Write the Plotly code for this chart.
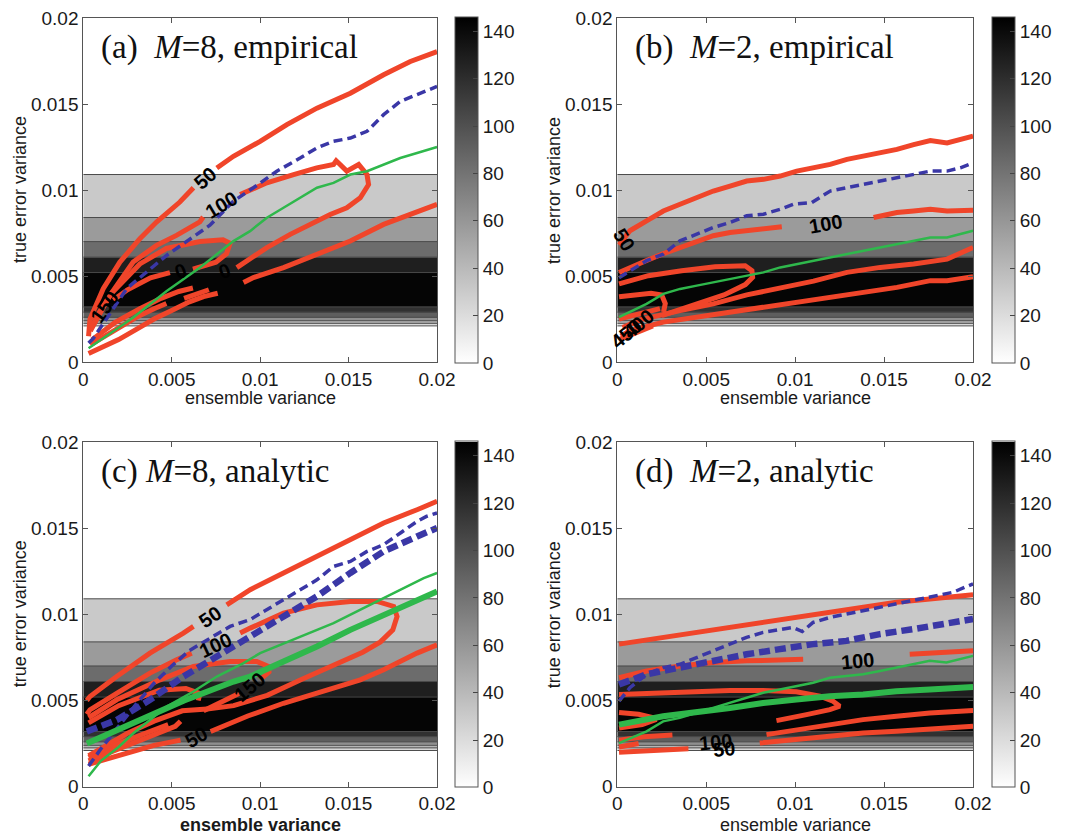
import plotly.graph_objects as go

# ---------------- shared background histogram bands ----------------
BAND_EDGES = [0.0021, 0.00225, 0.0024, 0.0026, 0.0029, 0.0032, 0.0052, 0.0061, 0.0070, 0.0084, 0.0109]
BAND_COUNTS = [22, 42, 64, 92, 118, 143, 128, 84, 57, 31]
CB_TICKS = [0, 20, 40, 60, 80, 100, 120, 140]
AX_TICKS = [0, 0.005, 0.01, 0.015, 0.02]
AX_TICKTEXT = ["0", "0.005", "0.01", "0.015", "0.02"]

# ---------------- panel (a) M=8 empirical ----------------
a_red_x = [0.0003, 0.00038, 0.00113, 0.00207, 0.0032, 0.00414, 0.00546, 0.00623, None,
           0.00755, 0.00849, 0.0100, 0.01151, 0.01321, 0.0151, 0.01698, 0.01849, 0.0200, None,
           0.0004, 0.00151, 0.00282, 0.00414, 0.00527, 0.00659, 0.00678, None,
           0.00887, 0.01038, 0.01189, 0.0132, 0.01415, 0.0143, 0.0149, 0.01557, 0.01604, 0.01613,
           0.01566, 0.0149, 0.01396, 0.01283, 0.0117, 0.01038, 0.00925, 0.00868, None,
           0.0006, 0.0016, 0.0032, 0.0047, 0.0066, 0.0079, 0.0083, 0.0081, 0.0075, 0.0062, None,
           0.0049, 0.0038, 0.0025, 0.0017, None, 0.0008, 0.0004, None,
           0.0003, 0.0010, 0.0020, 0.0030, 0.0040, 0.0050, 0.0060, 0.0068, 0.0076, None,
           0.00906, 0.00962, 0.01132, 0.01321, 0.0151, 0.01698, 0.01849, 0.0200, None,
           0.0004, 0.0015, 0.0030, 0.0040, 0.0047, None, 0.0057, 0.0066, 0.0071, None,
           0.0005, 0.0018, 0.0032, 0.0044, 0.0054, 0.0062]
a_red_y = [0.0015, 0.0025, 0.00426, 0.00581, 0.00717, 0.00814, 0.0093, 0.01013, None,
           0.01128, 0.01196, 0.01283, 0.0138, 0.01476, 0.01563, 0.0167, 0.01747, 0.01805, None,
           0.0018, 0.00388, 0.00581, 0.00678, 0.00736, 0.00814, 0.00843, None,
           0.00974, 0.01042, 0.0109, 0.01129, 0.01148, 0.0117, 0.0111, 0.01148, 0.0109, 0.01032,
           0.00955, 0.00897, 0.00858, 0.0080, 0.00742, 0.00665, 0.00587, 0.00549, None,
           0.0024, 0.0040, 0.0057, 0.0066, 0.0070, 0.0071, 0.0069, 0.0063, 0.0058, 0.0054, None,
           0.0052, 0.0049, 0.0042, 0.0036, None, 0.0026, 0.0020, None,
           0.0005, 0.0008, 0.0013, 0.0019, 0.0025, 0.0030, 0.0035, 0.0038, 0.0040, None,
           0.00462, 0.00491, 0.00549, 0.00626, 0.00703, 0.0080, 0.00858, 0.00916, None,
           0.0010, 0.0017, 0.0026, 0.0031, 0.0034, None, 0.0037, 0.0040, 0.0042, None,
           0.0013, 0.0023, 0.0031, 0.0037, 0.0041, 0.0043]
a_blue_x = [0.0003, 0.00056, 0.00245, 0.00471, 0.00716, 0.00849, 0.00962, 0.01094, 0.01226, 0.0132,
            0.01415, 0.0151, 0.01604, 0.01698, 0.01792, 0.01887, 0.0200]
a_blue_y = [0.0011, 0.00136, 0.00426, 0.0062, 0.00795, 0.00935, 0.01013, 0.01109, 0.01186, 0.01244,
            0.01283, 0.01302, 0.01341, 0.01438, 0.01515, 0.01554, 0.01602]
a_green_x = [0.0003, 0.00094, 0.00189, 0.00283, 0.00377, 0.00472, 0.00566, 0.0066, 0.00755, 0.00849, 0.00943,
             0.01038, 0.01132, 0.01226, 0.01321, 0.01415, 0.0151, 0.01604, 0.01698, 0.01792, 0.01887, 0.0200]
a_green_y = [0.0008, 0.00124, 0.00191, 0.00259, 0.00336, 0.00413, 0.00481, 0.00549, 0.00626, 0.00703, 0.00761,
             0.00839, 0.00897, 0.00955, 0.01013, 0.01041, 0.0109, 0.01109, 0.01148, 0.01186, 0.01215, 0.0125]
a_lab_text = ["50", "100", "150", "0", "0"]
a_lab_x = [0.0069, 0.0078, 0.0012, 0.0055, 0.0080]
a_lab_y = [0.0107, 0.0091, 0.0032, 0.0053, 0.0053]
a_lab_ang = [-41, -31, -55, -20, -20]

# ---------------- panel (b) M=2 empirical ----------------
b_red_x = [0.0001, 0.00071, 0.00165, 0.00259, 0.00353, 0.00447, 0.0054, 0.00634, 0.00728, 0.00822, 0.00916,
           0.01009, 0.01103, 0.01197, 0.01291, 0.01385, 0.01478, 0.01572, 0.01666, 0.0176, 0.01854, 0.01929, 0.0200, None,
           0.0001, 0.00071, 0.00165, 0.00259, 0.00353, 0.00447, 0.0054, 0.00634, 0.00728, 0.00822, 0.00925, None,
           0.01441, 0.01572, 0.01666, 0.0176, 0.01854, 0.0200, None,
           0.0001, 0.00175, 0.00362, 0.0055, 0.00719, 0.00757, 0.00761, 0.0072, 0.0060, 0.0048, 0.0034, 0.0025, None,
           0.0001, 0.0010, 0.0019, 0.0025, 0.0027, 0.0026, None,
           0.0003, 0.00128, 0.00353, 0.0054, 0.00728, 0.00916, 0.01103, 0.01291, 0.01478, 0.01666, 0.01854, 0.0200, None,
           0.0002, 0.00071, 0.00259, 0.00447, 0.00634, 0.00822, 0.01009, 0.01197, 0.01385, 0.01572, 0.0176, 0.01854, 0.0200, None,
           0.0001, 0.0010, 0.0020, None, 0.0001, 0.0012, 0.0024]
b_red_y = [0.0068, 0.00763, 0.0082, 0.00878, 0.00917, 0.00956, 0.00994, 0.01023, 0.01052, 0.01062, 0.01081,
           0.0111, 0.01129, 0.01149, 0.01178, 0.01197, 0.01216, 0.01236, 0.01264, 0.01288, 0.01274, 0.01293, 0.01313, None,
           0.0052, 0.0055, 0.0059, 0.0063, 0.00666, 0.00705, 0.00734, 0.00753, 0.00763, 0.00772, 0.00786, None,
           0.0084, 0.00869, 0.00878, 0.00888, 0.00878, 0.00882, None,
           0.00454, 0.00502, 0.00531, 0.00554, 0.0056, 0.00531, 0.00492, 0.0045, 0.0039, 0.0035, 0.0030, 0.0027, None,
           0.0038, 0.0039, 0.0040, 0.0039, 0.0034, 0.0029, None,
           0.0020, 0.00245, 0.00299, 0.00338, 0.0039, 0.0043, 0.0047, 0.00521, 0.0055, 0.0057, 0.00598, 0.00666, None,
           0.0015, 0.00183, 0.00232, 0.00261, 0.0029, 0.00318, 0.00347, 0.00376, 0.00405, 0.00434, 0.00473, 0.00473, 0.00496, None,
           0.0013, 0.0017, 0.0021, None, 0.0025, 0.0028, 0.0031]
b_blue_x = [0.0001, 0.00071, 0.00165, 0.00259, 0.00353, 0.00447, 0.0054, 0.00634, 0.00728, 0.00822, 0.00916, 0.00991,
            0.01094, 0.01197, 0.01291, 0.01385, 0.01478, 0.01572, 0.01666, 0.0176, 0.01854, 0.01929, 0.0200]
b_blue_y = [0.0049, 0.0053, 0.00589, 0.00627, 0.00705, 0.00743, 0.00782, 0.00811, 0.0085, 0.00859, 0.00888, 0.00917,
            0.00927, 0.00994, 0.01014, 0.01033, 0.01052, 0.01071, 0.01091, 0.0111, 0.0111, 0.01129, 0.01158]
b_green_x = [0.0001, 0.00071, 0.00165, 0.00259, 0.00353, 0.00447, 0.0054, 0.00634, 0.00728, 0.00822, 0.00916,
             0.01009, 0.01103, 0.01197, 0.01291, 0.01385, 0.01478, 0.01572, 0.01666, 0.0176, 0.01854, 0.0200]
b_green_y = [0.00261, 0.0029, 0.00338, 0.00396, 0.00425, 0.00444, 0.00463, 0.00483, 0.00502, 0.00521, 0.0055,
             0.0057, 0.00589, 0.00608, 0.00627, 0.00647, 0.00666, 0.00685, 0.00705, 0.00724, 0.00724, 0.00763]
b_lab_text = ["50", "100", "400", "450"]
b_lab_x = [0.0004, 0.01169, 0.0012, 0.0005]
b_lab_y = [0.0071, 0.00805, 0.0022, 0.0016]
b_lab_ang = [58, -10, -40, -40]

# ---------------- panel (c) M=8 analytic ----------------
c_red_x = [0.0002, 0.00038, 0.00189, 0.00377, 0.00566, 0.00623, None,
           0.00811, 0.00944, 0.01132, 0.01321, 0.0151, 0.01698, 0.01887, 0.0200, None,
           0.0002, 0.00038, 0.00189, 0.00377, 0.00528, 0.00613, None,
           0.00887, 0.00944, 0.01132, 0.01321, 0.0151, 0.01661, 0.01755, 0.01774, 0.0175, 0.0168, 0.0158, 0.0142,
           0.0123, 0.0104, 0.0085, 0.0070, 0.0056, 0.0040, 0.0025, 0.0010, 0.0003, None,
           0.0003, 0.00189, 0.00434, 0.00623, 0.0083, 0.00981, 0.01047, 0.0105, 0.0101, None,
           0.0088, 0.0078, 0.0068, None,
           0.0003, 0.0020, 0.0043, 0.0058, 0.0066, 0.0065, None,
           0.0003, 0.0020, 0.0040, 0.0055, None,
           0.0072, 0.0093, 0.01132, 0.0135, 0.01566, 0.01698, 0.01887, 0.0200, None,
           0.0003, 0.0020, 0.0040, 0.0052, 0.0055, None,
           0.0003, 0.0020, 0.0035, 0.0048]
c_red_y = [0.0050, 0.00523, 0.00639, 0.00775, 0.00891, 0.0093, None,
           0.01055, 0.01143, 0.0124, 0.01336, 0.01433, 0.0153, 0.01607, 0.01656, None,
           0.0042, 0.00446, 0.00542, 0.00659, 0.00736, 0.00775, None,
           0.00891, 0.0092, 0.01007, 0.01055, 0.01075, 0.01075, 0.01046, 0.00987, 0.0091, 0.0084, 0.0078, 0.0071,
           0.0062, 0.0053, 0.0047, 0.0045, 0.0044, 0.0038, 0.0031, 0.0022, 0.0018, None,
           0.0040, 0.00504, 0.0062, 0.00697, 0.00726, 0.00726, 0.00697, 0.00665, 0.0063, None,
           0.0054, 0.0049, 0.0044, None,
           0.0037, 0.0047, 0.0056, 0.0057, 0.0054, 0.0050, None,
           0.0013, 0.0018, 0.0024, 0.0027, None,
           0.0032, 0.0041, 0.00484, 0.0055, 0.0062, 0.00678, 0.00775, 0.00823, None,
           0.0015, 0.0022, 0.0030, 0.0035, 0.0038, None,
           0.0017, 0.0025, 0.0031, 0.0036]
c_blue_thin_x = [0.0003, 0.0010, 0.0020, 0.0030, 0.0040, 0.0050, 0.0060, 0.0073, 0.0083, 0.00944, 0.01132,
                 0.01321, 0.01415, 0.0151, 0.01604, 0.01698, 0.01793, 0.01887, 0.0194, 0.0200]
c_blue_thin_y = [0.0012, 0.0022, 0.0035, 0.0048, 0.0060, 0.0070, 0.0079, 0.0087, 0.0093, 0.0097, 0.01085,
                 0.0120, 0.01278, 0.01307, 0.01365, 0.01404, 0.01472, 0.01539, 0.01568, 0.01588]
c_blue_thick_x = [0.0002, 0.00189, 0.00377, 0.00566, 0.00755, 0.00944, 0.01132, 0.01321, 0.0151, 0.01698, 0.01887, 0.0200]
c_blue_thick_y = [0.0032, 0.00387, 0.00504, 0.00639, 0.00755, 0.00871, 0.00987, 0.01104, 0.0124, 0.01365, 0.01452, 0.01501]
c_green_thin_x = [0.0003, 0.0010, 0.0020, 0.00283, 0.00472, 0.00623, 0.00755, 0.00906, 0.0100, 0.01226,
                  0.01415, 0.01604, 0.01793, 0.01925, 0.0200]
c_green_thin_y = [0.0006, 0.0015, 0.0023, 0.0031, 0.00465, 0.00552, 0.00639, 0.00717, 0.00775, 0.00871,
                  0.00949, 0.01046, 0.01143, 0.0121, 0.0124]
c_green_thick_x = [0.0002, 0.0028, 0.0057, 0.0085, 0.00944, 0.01132, 0.01321, 0.0151, 0.01698, 0.01887, 0.0200]
c_green_thick_y = [0.0025, 0.0037, 0.0050, 0.0061, 0.00639, 0.00726, 0.00813, 0.0091, 0.00997, 0.01085, 0.01133]
c_lab_text = ["50", "100", "150", "50"]
c_lab_x = [0.00717, 0.0075, 0.0094, 0.0064]
c_lab_y = [0.00985, 0.0082, 0.0058, 0.0029]
c_lab_ang = [-35, -25, -40, -30]

# ---------------- panel (d) M=2 analytic ----------------
d_red_x = [0.0001, 0.00258, 0.00446, 0.00633, 0.0082, 0.01007, 0.01195, 0.01382, 0.01569, 0.01757, 0.0200, None,
           0.0001, 0.00165, 0.00352, 0.00539, 0.00727, 0.00914, 0.01045, None,
           0.01644, 0.0185, 0.0200, None,
           0.0001, 0.00258, 0.00446, 0.00633, 0.0082, 0.01007, 0.01139, 0.01213, 0.01251, 0.01195, 0.01064, 0.00895, None,
           0.0001, 0.0012, 0.0020, 0.0022, 0.0014, 0.0001, None,
           0.00839, 0.01007, 0.01195, 0.01382, 0.01569, 0.01757, 0.0200, None,
           0.00801, 0.01007, 0.01195, 0.01382, 0.01569, 0.01757, 0.0200, None,
           0.0001, 0.0015, 0.0031, None,
           0.0001, 0.0020, 0.0040, None,
           0.0001, 0.0012]
d_red_y = [0.00827, 0.00866, 0.00895, 0.00924, 0.00953, 0.00982, 0.01012, 0.01041, 0.0107, 0.01089, 0.01113, None,
           0.00632, 0.00671, 0.0070, 0.0072, 0.0073, 0.00739, 0.00739, None,
           0.00768, 0.00778, 0.00788, None,
           0.00535, 0.00545, 0.00554, 0.00558, 0.00558, 0.00551, 0.00525, 0.00496, 0.00467, 0.00447, 0.00418, 0.00383, None,
           0.0043, 0.0042, 0.0040, 0.0039, 0.0036, 0.0034, None,
           0.00302, 0.00331, 0.0036, 0.00389, 0.00409, 0.00428, 0.00442, None,
           0.00253, 0.00272, 0.00292, 0.00311, 0.00321, 0.00331, 0.0035, None,
           0.0027, 0.0029, 0.0030, None,
           0.0020, 0.0021, 0.0022, None,
           0.0023, 0.0025]
d_blue_thin_x = [0.0001, 0.00071, 0.00165, 0.00258, 0.00352, 0.00446, 0.00539, 0.00633, 0.00727, 0.0082, 0.00914,
                 0.00989, 0.0104, 0.01101, 0.01195, 0.01382, 0.01569, 0.01757, 0.01888, 0.0200]
d_blue_thin_y = [0.00496, 0.00574, 0.00652, 0.00691, 0.0071, 0.00749, 0.00788, 0.00827, 0.00866, 0.00895, 0.00914,
                 0.00924, 0.0090, 0.00953, 0.00982, 0.01021, 0.0106, 0.01099, 0.01128, 0.01177]
d_blue_thick_x = [0.0001, 0.00165, 0.00352, 0.00539, 0.00727, 0.00914, 0.01101, 0.01288, 0.01476, 0.01663, 0.0185, 0.0200]
d_blue_thick_y = [0.00593, 0.00652, 0.00691, 0.0073, 0.00768, 0.00798, 0.00827, 0.00846, 0.00885, 0.00914, 0.00944, 0.00973]
d_green_thin_x = [0.0001, 0.00165, 0.00258, 0.00352, 0.00446, 0.00539, 0.00633, 0.00727, 0.0082, 0.00914, 0.01007,
                  0.01101, 0.01195, 0.01382, 0.01476, 0.01569, 0.01663, 0.01757, 0.0185, 0.0200]
d_green_thin_y = [0.00253, 0.00321, 0.00379, 0.00399, 0.00428, 0.00457, 0.00486, 0.00516, 0.00545, 0.00564, 0.00584,
                  0.00603, 0.00632, 0.00652, 0.00671, 0.00691, 0.0071, 0.0073, 0.0072, 0.00759]
d_green_thick_x = [0.0001, 0.00258, 0.00633, 0.0082, 0.01007, 0.01195, 0.01382, 0.01569, 0.01757, 0.0200]
d_green_thick_y = [0.0036, 0.00409, 0.00457, 0.00486, 0.00506, 0.00525, 0.00535, 0.00554, 0.00564, 0.00578]
d_lab_text = ["100", "100", "50"]
d_lab_x = [0.0135, 0.0055, 0.0060]
d_lab_y = [0.0073, 0.0026, 0.0022]
d_lab_ang = [-5, -5, -5]

TITLES = ["(a)\u00a0\u00a0<i>M</i>=8, empirical", "(b)\u00a0\u00a0<i>M</i>=2, empirical",
          "(c) <i>M</i>=8, analytic", "(d)\u00a0\u00a0<i>M</i>=2, analytic"]
X_TITLES = ["ensemble variance", "ensemble variance", "<b>ensemble variance</b>", "ensemble variance"]
Y_TITLE = "true error variance"

# ---------------- styling / layout (page has an 8 px body margin) ----------------
RED = "#f0452a"
BLUE = "#3a37a6"
GREEN = "#2fb84c"
SANS = "Liberation Sans, Arial, sans-serif"
SERIF = "Liberation Serif, Times New Roman, serif"
W, H = 1057, 826

X_DOMAINS = [[0.0712, 0.4059], [0.5764, 0.9130], [0.0712, 0.4059], [0.5764, 0.9130]]
Y_DOMAINS = [[1 - 354 / H, 1 - 10 / H], [1 - 354 / H, 1 - 10 / H], [0.0573, 0.4746], [0.0573, 0.4746]]
CB_X = [447 / W, 984 / W, 447 / W, 984 / W]
CB_Y = [1 - 182 / H, 1 - 182 / H, 1 - 606.5 / H, 1 - 606.5 / H]
XT_Y = [1 - 390 / H, 1 - 390 / H, 1 - 817 / H, 1 - 817 / H]
YT_X = 12 / W

panels = [
    dict(red=(a_red_x, a_red_y), blue=[(a_blue_x, a_blue_y, 3.5)], green=[(a_green_x, a_green_y, 2.5)],
         labs=(a_lab_text, a_lab_x, a_lab_y, a_lab_ang)),
    dict(red=(b_red_x, b_red_y), blue=[(b_blue_x, b_blue_y, 3.5)], green=[(b_green_x, b_green_y, 2.5)],
         labs=(b_lab_text, b_lab_x, b_lab_y, b_lab_ang)),
    dict(red=(c_red_x, c_red_y),
         blue=[(c_blue_thin_x, c_blue_thin_y, 3.5), (c_blue_thick_x, c_blue_thick_y, 6.5)],
         green=[(c_green_thin_x, c_green_thin_y, 2.5), (c_green_thick_x, c_green_thick_y, 6)],
         labs=(c_lab_text, c_lab_x, c_lab_y, c_lab_ang)),
    dict(red=(d_red_x, d_red_y),
         blue=[(d_blue_thin_x, d_blue_thin_y, 3.5), (d_blue_thick_x, d_blue_thick_y, 6.5)],
         green=[(d_green_thin_x, d_green_thin_y, 2.5), (d_green_thick_x, d_green_thick_y, 6)],
         labs=(d_lab_text, d_lab_x, d_lab_y, d_lab_ang)),
]

fig = go.Figure()
annotations = []
layout_axes = {}
X0, X1 = AX_TICKS[0], AX_TICKS[-1]

for i, p in enumerate(panels):
    n = "" if i == 0 else str(i + 1)
    xa, ya = "x" + n, "y" + n
    # background bands (histogram)
    fig.add_trace(go.Heatmap(
        x=[X0, X1], y=BAND_EDGES, z=[[c] for c in BAND_COUNTS],
        zmin=0, zmax=146, colorscale=[[0, "#ffffff"], [1, "#000000"]],
        xaxis=xa, yaxis=ya, hoverinfo="skip",
        colorbar=dict(x=CB_X[i], xanchor="left", xpad=0, ypad=0, thickness=23,
                      len=346 / H, lenmode="fraction", y=CB_Y[i], yanchor="middle",
                      tickvals=CB_TICKS, ticks="inside", ticklen=5, tickcolor="#444",
                      outlinewidth=1, outlinecolor="#555",
                      tickfont=dict(family=SANS, size=19, color="#1a1a1a")),
    ))
    # band boundary lines
    bx, by = [], []
    for e in BAND_EDGES:
        bx += [X0, X1, None]
        by += [e, e, None]
    fig.add_trace(go.Scatter(x=bx, y=by, mode="lines", line=dict(color="#4a4a4a", width=1),
                             xaxis=xa, yaxis=ya, hoverinfo="skip", showlegend=False))
    # red contours
    fig.add_trace(go.Scatter(x=p["red"][0], y=p["red"][1], mode="lines",
                             line=dict(color=RED, width=5), connectgaps=False,
                             xaxis=xa, yaxis=ya, showlegend=False))
    for (bxs, bys, w) in p["blue"]:
        fig.add_trace(go.Scatter(x=bxs, y=bys, mode="lines",
                                 line=dict(color=BLUE, width=w, dash="9px,5px" if w < 5 else "11px,5px"),
                                 xaxis=xa, yaxis=ya, showlegend=False))
    for (gxs, gys, w) in p["green"]:
        fig.add_trace(go.Scatter(x=gxs, y=gys, mode="lines", line=dict(color=GREEN, width=w),
                                 xaxis=xa, yaxis=ya, showlegend=False))
    # contour labels
    texts, lx, ly, la = p["labs"]
    for t, xx, yy, ang in zip(texts, lx, ly, la):
        annotations.append(dict(x=xx, y=yy, xref=xa, yref=ya, text="<b>%s</b>" % t, showarrow=False,
                                textangle=ang, font=dict(family=SANS, size=20, color="#000000")))
    # panel title
    annotations.append(dict(x=0.045, y=0.915, xref=xa + " domain", yref=ya + " domain", text=TITLES[i],
                            showarrow=False, xanchor="left", yanchor="middle",
                            font=dict(family=SERIF, size=33, color="#111111")))
    # axis titles
    annotations.append(dict(x=sum(X_DOMAINS[i]) / 2, y=XT_Y[i], xref="paper", yref="paper",
                            text=X_TITLES[i], showarrow=False, xanchor="center", yanchor="middle",
                            font=dict(family=SANS, size=18, color="#1a1a1a")))
    annotations.append(dict(x=YT_X + (X_DOMAINS[i][0] - X_DOMAINS[0][0]), y=sum(Y_DOMAINS[i]) / 2,
                            xref="paper", yref="paper", text=Y_TITLE, textangle=-90, showarrow=False,
                            xanchor="center", yanchor="middle",
                            font=dict(family=SANS, size=18, color="#1a1a1a")))
    common = dict(range=[X0, X1], tickvals=AX_TICKS, ticktext=AX_TICKTEXT, ticks="inside", ticklen=5,
                  tickcolor="#555", showline=True, linecolor="#555", linewidth=1, mirror="ticks",
                  showgrid=False, zeroline=False, ticklabeloverflow="allow",
                  tickfont=dict(family=SANS, size=19, color="#1a1a1a"))
    layout_axes["xaxis" + n] = dict(common, domain=X_DOMAINS[i], anchor=ya)
    layout_axes["yaxis" + n] = dict(common, range=[0, 0.02], domain=Y_DOMAINS[i], anchor=xa)

fig.update_layout(width=W, height=H, margin=dict(l=0, r=0, t=0, b=0, autoexpand=False),
                  paper_bgcolor="white", plot_bgcolor="white", showlegend=False,
                  annotations=annotations, **layout_axes)
fig.write_html("out.html")
